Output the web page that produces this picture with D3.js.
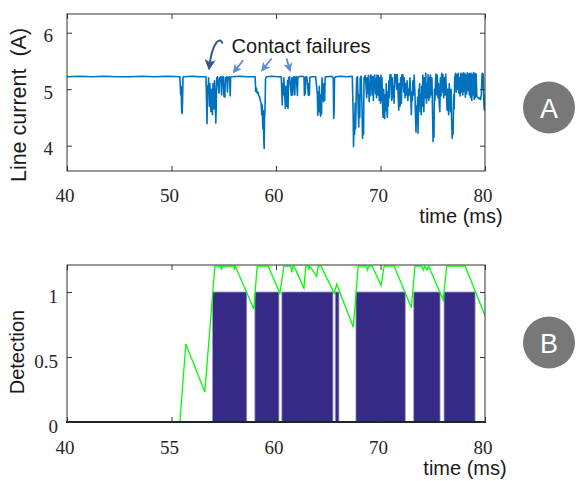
<!DOCTYPE html>
<html><head><meta charset="utf-8">
<script src="https://cdn.jsdelivr.net/npm/d3@7"></script>
<style>body{margin:0;background:#fff}svg{display:block}</style>
</head><body><svg id="c" width="576" height="481"></svg>
<script>
// ---------- data ----------
const timeTicks = [40, 50, 60, 70, 80];
const topTimeLabels = ["40", "50", "60", "70", "80"];
const bottomTimeLabels = ["40", "55", "60", "70", "80"];
const currentTicks = [4, 5, 6];
const currentTickLabels = ["4", "5", "6"];
const detectionTicks = [0, 0.5, 1];
const detectionTickLabels = ["0", "0.5", "1"];

// line current (A) vs time (ms)
const currentTrace = [
 [40.0,5.22],[41.2,5.23],[42.4,5.22],[43.6,5.23],[44.8,5.22],[46.0,5.22],[47.2,5.23],[48.4,5.22],[49.6,5.23],[50.8,5.22],
 [50.88,4.9],[50.92,5.05],[50.97,4.62],[51.02,4.57],[51.06,4.8],[51.1,5.2],[51.15,5.22],
 [52.0,5.23],[52.7,5.22],[53.3,5.22],
 [53.35,4.8],[53.4,4.39],[53.44,5.05],[53.5,4.95],[53.55,5.2],[53.62,4.7],[53.67,5.1],[53.72,4.85],[53.77,4.6],[53.82,5.0],[53.87,4.75],[53.92,4.55],[53.97,5.1],[54.02,4.85],[54.07,4.65],[54.12,5.15],[54.18,4.9],[54.24,4.4],[54.28,4.7],[54.33,5.2],[54.4,5.22],
 [54.55,4.93],[54.6,5.2],[54.72,5.22],[54.8,4.9],[54.84,5.21],[54.95,5.22],[55.02,4.87],[55.06,5.05],[55.11,4.86],[55.15,5.2],[55.28,5.22],[55.36,4.95],[55.4,5.21],[55.55,5.22],[55.62,4.88],[55.66,5.21],[55.8,5.22],
 [56.5,5.23],[57.3,5.22],[58.0,5.22],
 [58.06,4.96],[58.12,5.02],[58.2,4.93],[58.28,4.95],[58.36,4.88],[58.44,4.86],[58.5,4.8],[58.58,4.75],[58.64,4.55],[58.68,4.72],[58.74,4.3],[58.78,4.62],[58.83,4.1],[58.87,3.95],[58.9,4.45],[58.95,4.65],[59.0,5.18],[59.08,5.22],
 [59.6,5.23],[60.1,5.22],[60.5,5.22],
 [60.56,4.95],[60.6,4.72],[60.64,5.1],[60.7,4.9],[60.75,5.2],[60.85,4.85],[60.9,4.66],[60.95,5.05],[61.0,4.8],[61.05,4.7],[61.1,5.15],[61.15,4.66],[61.2,5.2],[61.3,5.22],
 [61.43,4.95],[61.47,4.89],[61.52,5.2],[61.6,4.9],[61.64,5.21],[61.72,5.22],[61.8,4.9],[61.84,5.21],[61.95,5.22],[62.05,4.89],[62.09,5.21],[62.2,5.22],[62.4,5.23],
 [62.68,5.22],[62.72,4.89],[62.76,5.05],[62.8,4.92],[62.84,5.21],[62.95,5.22],[63.1,4.89],[63.14,5.1],[63.2,4.9],[63.24,5.21],[63.5,5.22],[63.8,5.22],
 [63.96,4.9],[64.0,4.54],[64.04,4.95],[64.1,4.6],[64.15,5.05],[64.2,4.7],[64.26,4.52],[64.3,4.9],[64.36,4.56],[64.4,5.2],[64.5,4.9],[64.55,4.78],[64.6,5.1],[64.66,4.8],[64.7,5.21],[64.82,5.22],
 [65.0,5.22],[65.3,5.23],[65.48,5.2],[65.52,4.48],[65.56,4.6],[65.6,5.2],[65.7,5.22],[66.2,5.23],[66.8,5.22],[67.3,5.23],
 [67.38,4.6],[67.42,3.98],[67.47,4.4],[67.52,4.2],[67.57,4.75],[67.62,4.3],[67.68,4.9],[67.72,5.2],[67.8,5.22],[67.87,4.6],[67.92,4.33],[67.96,4.9],[68.02,4.5],[68.06,5.2],[68.15,5.23],
 [68.24,4.6],[68.28,4.13],[68.33,4.5],[68.38,4.2],[68.42,5.2],[68.55,5.24],
 [68.68,4.85],[68.72,5.2],[68.8,4.93],[68.84,5.24],[68.92,4.78],[68.96,5.1],[69.0,4.88],[69.04,5.25],[69.12,5.24],[69.2,4.9],[69.24,5.22],[69.32,4.8],[69.36,5.2],[69.45,5.25],[69.52,4.92],[69.56,5.18],[69.62,4.85],[69.66,5.25],[69.75,4.9],[69.8,5.24],[69.88,4.8],[69.92,5.2],[70.0,4.75],[70.05,5.25],
 [70.1,4.8],[70.14,5.2],[70.2,4.7],[70.25,4.5],[70.3,5.0],[70.35,4.6],[70.4,4.48],[70.45,4.9],[70.5,4.62],[70.55,5.1],[70.6,4.7],[70.65,4.5],[70.7,4.95],[70.75,4.7],[70.8,5.15],[70.85,4.85],[70.9,5.25],
 [71.0,5.26],[71.08,4.8],[71.12,5.2],[71.2,4.85],[71.25,5.05],[71.3,4.75],[71.35,5.26],
 [71.45,5.25],[71.55,5.0],[71.6,5.26],[71.7,4.85],[71.75,4.63],[71.8,5.1],[71.88,4.7],[71.93,5.2],[72.0,4.75],[72.05,5.26],
 [72.15,5.25],[72.22,4.95],[72.27,5.2],[72.35,4.85],[72.4,5.1],[72.48,4.9],[72.55,5.15],[72.62,4.8],[72.68,5.0],[72.75,4.9],[72.82,5.2],[72.9,4.85],[72.95,4.55],[73.0,4.95],[73.05,4.8],[73.1,5.15],[73.18,4.9],[73.22,5.25],
 [73.3,4.9],[73.35,4.5],[73.4,4.24],[73.45,4.7],[73.5,4.4],[73.55,4.85],[73.6,4.22],[73.65,5.0],
 [73.7,4.8],[73.75,5.1],[73.8,4.6],[73.85,4.9],[73.9,4.55],[73.95,5.05],[74.0,4.7],[74.05,5.25],[74.1,4.9],[74.15,4.6],[74.2,5.2],[74.28,4.85],[74.33,5.28],[74.4,4.75],[74.45,5.1],[74.5,4.85],[74.55,5.26],[74.62,4.8],[74.66,5.2],[74.72,4.85],[74.78,5.25],[74.85,4.9],
 [74.92,5.2],[74.98,4.6],[75.03,4.07],[75.07,4.5],[75.12,4.15],[75.16,5.0],[75.2,4.8],
 [75.3,5.27],[75.38,4.9],[75.43,5.25],[75.5,4.85],[75.55,5.1],[75.62,4.75],[75.68,4.6],[75.73,5.2],[75.8,4.88],[75.85,5.28],[75.92,4.95],[75.97,5.26],[76.05,4.85],[76.1,5.2],[76.18,4.9],[76.24,5.27],
 [76.32,4.9],[76.37,4.63],[76.42,5.0],[76.48,4.7],[76.52,4.55],[76.58,5.1],[76.64,4.8],[76.7,4.6],[76.75,5.0],[76.8,4.5],[76.86,4.13],[76.9,4.4],[76.95,4.2],[77.0,4.9],[77.05,4.65],[77.1,5.2],
 [77.18,5.28],[77.25,4.95],[77.3,5.26],[77.38,5.0],[77.44,5.28],[77.5,4.93],[77.55,5.2],[77.62,4.88],[77.67,5.28],[77.75,4.95],[77.8,5.27],[77.88,4.9],[77.93,5.29],[78.0,4.96],[78.05,5.28],[78.12,4.86],[78.18,5.25],[78.25,4.92],[78.3,5.29],[78.38,4.98],[78.43,5.27],[78.5,4.9],[78.55,5.28],
 [78.62,4.85],[78.67,5.28],[78.74,4.8],[78.8,5.26],[78.86,4.9],[78.9,5.29],[78.97,4.82],[79.02,5.28],[79.08,4.85],[79.15,5.27],[79.22,4.87],[79.3,4.86],[79.38,4.84],[79.45,4.83],[79.52,4.85],[79.58,4.82],
 [79.65,4.9],[79.72,5.28],[79.78,5.0],[79.83,5.27],[79.9,4.7],[79.95,4.63],[80.0,4.9]
];

// detection intervals (start ms, end ms), level 1
const detectionStarts = [53.93, 57.98, 60.56, 65.67, 67.65, 73.18, 76.08];
const detectionEnds   = [57.20, 60.28, 65.45, 66.02, 72.37, 75.70, 79.05];

// detection score (green line)
const scoreTrace = [
 [40,0],[50.8,0],[51.37,0.6],[53.19,0.23],[54.15,1.2],[54.72,1.2],[54.79,1.17],[54.86,1.2],[55.95,1.2],[56.02,1.17],[56.1,1.2],
 [57.88,0.87],[58.2,1.2],[59.25,1.2],[60.37,0.99],[60.76,1.2],[61.4,1.2],[61.52,1.15],[61.62,1.2],[61.72,1.2],
 [62.67,1.03],[62.86,1.2],[63.06,1.2],[63.13,1.17],[63.22,1.2],[63.89,1.12],[64.04,1.2],[64.3,1.2],
 [65.57,0.99],[65.8,1.06],[67.4,0.73],[67.87,1.2],[68.65,1.2],[68.76,1.17],[68.9,1.2],[69.2,1.2],
 [70.05,1.05],[70.35,1.2],[71.3,1.2],[72.95,0.88],[73.3,1.2],[73.95,1.2],[74.1,1.17],[74.25,1.2],[74.45,1.17],[74.6,1.2],
 [76.0,0.94],[76.34,1.2],[78.1,1.2],[80,0.82]
];

// annotation (data units)
const noteText = "Contact failures";
const noteAnchor = [55.75, 5.64];
const curvedArrow = [[54.88, 5.81], [54.72, 5.93], [53.9, 5.87], [53.6, 5.37]];
const straightArrows = [
 [56.86, 5.513, 55.97, 5.306],
 [59.58, 5.543, 58.68, 5.336],
 [61.01, 5.543, 61.33, 5.336]
];

// ---------- drawing ----------
const svg = d3.select("#c");
const serif = "'Liberation Serif','Times New Roman',serif";
const sans = "'Liberation Sans',Arial,sans-serif";
const L = 67, R = 485;

const x = d3.scaleLinear().domain([40, 80]).range([L, R]);
const yTop = d3.scaleLinear().domain([3.552, 6.331]).range([171, 14]);
const yBot = d3.scaleLinear().domain([0, 1.2]).range([422, 266]);

const defs = svg.append("defs");
defs.append("clipPath").attr("id", "clipTop").append("rect")
  .attr("x", L).attr("y", 14).attr("width", R - L).attr("height", 157);
defs.append("clipPath").attr("id", "clipBot").append("rect")
  .attr("x", L).attr("y", 265.5).attr("width", R - L).attr("height", 157);

function mk(id, color, size) {
  defs.append("marker").attr("id", id).attr("viewBox", "0 0 10 10")
    .attr("refX", 8).attr("refY", 5).attr("markerUnits", "userSpaceOnUse")
    .attr("markerWidth", size).attr("markerHeight", size).attr("orient", "auto")
    .append("path").attr("d", "M0,0 L10,5 L0,10 L2.5,5 z").attr("fill", color);
}
mk("ahDark", "#34588c", 11);
mk("ahLight", "#5b8ccc", 9);

// ---- panel A ----
const gA = svg.append("g");
gA.append("path").datum(currentTrace)
  .attr("clip-path", "url(#clipTop)")
  .attr("fill", "none").attr("stroke", "#0072bd").attr("stroke-width", 1.6)
  .attr("stroke-linejoin", "round")
  .attr("d", d3.line().x(d => x(d[0])).y(d => yTop(d[1])));

function frame(g, y0, y1, bottomW) {
  g.append("rect").attr("x", L).attr("y", y0).attr("width", R - L).attr("height", y1 - y0)
    .attr("fill", "none").attr("stroke", "#333").attr("stroke-width", 1);
  if (bottomW) g.append("line").attr("x1", L - 1).attr("x2", R + 1).attr("y1", y1).attr("y2", y1)
    .attr("stroke", "#1c2430").attr("stroke-width", bottomW);
}

function axes(g, yScale, y0, y1, xLabels, yVals, yLabels, yLabelRight, yLabelDy, xBase) {
  const xb = d3.axisBottom(x).tickValues(timeTicks).tickFormat((d, i) => xLabels[i])
    .tickSizeInner(-5).tickSizeOuter(0).tickPadding(0);
  const gx = g.append("g").attr("transform", `translate(0,${y1})`).call(xb);
  gx.select(".domain").remove();
  gx.selectAll("line").attr("stroke", "#333");
  gx.selectAll("text").attr("y", xBase - y1).attr("dy", 0).attr("dx", -2.5)
    .attr("font-family", serif).attr("font-size", 19).attr("fill", "#262626");
  const xt = d3.axisTop(x).tickValues(timeTicks).tickFormat("").tickSizeInner(-5).tickSizeOuter(0);
  const gxt = g.append("g").attr("transform", `translate(0,${y0})`).call(xt);
  gxt.select(".domain").remove(); gxt.selectAll("line").attr("stroke", "#333");

  const yl = d3.axisLeft(yScale).tickValues(yVals).tickFormat((d, i) => yLabels[i])
    .tickSizeInner(-5).tickSizeOuter(0).tickPadding(0);
  const gy = g.append("g").attr("transform", `translate(${L},0)`).call(yl);
  gy.select(".domain").remove(); gy.selectAll("line").attr("stroke", "#333");
  gy.selectAll("text").attr("x", yLabelRight - L).attr("dy", 0).attr("y", yLabelDy)
    .attr("font-family", serif).attr("font-size", 19).attr("fill", "#262626");
  const yr = d3.axisRight(yScale).tickValues(yVals).tickFormat("").tickSizeInner(-5).tickSizeOuter(0);
  const gyr = g.append("g").attr("transform", `translate(${R},0)`).call(yr);
  gyr.select(".domain").remove(); gyr.selectAll("line").attr("stroke", "#333");
}

frame(gA, 14, 171, 0);
axes(gA, yTop, 14, 171, topTimeLabels, currentTicks, currentTickLabels, 53, 9, 202);

gA.append("text").attr("x", 461).attr("y", 223).attr("text-anchor", "middle")
  .attr("font-family", sans).attr("font-size", 20).attr("fill", "#1a1a1a").text("time (ms)");
gA.append("text").attr("transform", "translate(19,105) rotate(-90)")
  .attr("text-anchor", "middle").attr("dominant-baseline", "central")
  .attr("font-family", sans).attr("font-size", 21.5).attr("fill", "#1a1a1a")
  .attr("xml:space", "preserve").style("white-space", "pre").text("Line current  (A)");

// annotation
gA.append("text").attr("x", x(noteAnchor[0])).attr("y", yTop(noteAnchor[1]))
  .attr("font-family", sans).attr("font-size", 20).attr("fill", "#1a1a1a").text(noteText);
const cp = curvedArrow.map(p => [x(p[0]), yTop(p[1])]);
gA.append("path")
  .attr("d", `M${cp[0]}C${cp[1]} ${cp[2]} ${cp[3]}`)
  .attr("fill", "none").attr("stroke", "#34588c").attr("stroke-width", 2)
  .attr("marker-end", "url(#ahDark)");
gA.selectAll("line.arr").data(straightArrows).join("line").attr("class", "arr")
  .attr("x1", d => x(d[0])).attr("y1", d => yTop(d[1]))
  .attr("x2", d => x(d[2])).attr("y2", d => yTop(d[3]))
  .attr("stroke", "#5b8ccc").attr("stroke-width", 1.8)
  .attr("marker-end", "url(#ahLight)");

// ---- panel B ----
const gB = svg.append("g");
gB.append("g").attr("clip-path", "url(#clipBot)")
  .selectAll("rect").data(detectionStarts).join("rect")
  .attr("x", (d, i) => x(d)).attr("width", (d, i) => x(detectionEnds[i]) - x(d))
  .attr("y", yBot(1)).attr("height", yBot(0) - yBot(1))
  .attr("fill", "#352a86").attr("stroke", "#9a94cc").attr("stroke-width", 0.8);
gB.append("path").datum(scoreTrace).attr("clip-path", "url(#clipBot)")
  .attr("fill", "none").attr("stroke", "#00ff00").attr("stroke-width", 1.3)
  .attr("d", d3.line().x(d => x(d[0])).y(d => yBot(d[1])));

frame(gB, 265, 422, 2.2);
axes(gB, yBot, 265, 422, bottomTimeLabels, detectionTicks, detectionTickLabels, 58, 10, 454);

gB.append("text").attr("x", 465).attr("y", 475).attr("text-anchor", "middle")
  .attr("font-family", sans).attr("font-size", 20).attr("fill", "#1a1a1a").text("time (ms)");
gB.append("text").attr("transform", "translate(17,352) rotate(-90)")
  .attr("text-anchor", "middle").attr("dominant-baseline", "central")
  .attr("font-family", sans).attr("font-size", 20).attr("fill", "#1a1a1a").text("Detection");

// ---- panel badges ----
const badges = [["A", 107.5], ["B", 342.5]];
const gb = svg.selectAll("g.badge").data(badges).join("g").attr("class", "badge")
  .attr("transform", d => `translate(549,${d[1]})`);
gb.append("circle").attr("r", 26).attr("fill", "#787878");
gb.append("text").attr("text-anchor", "middle").attr("dominant-baseline", "central")
  .attr("y", 1).attr("font-family", sans).attr("font-size", 27).attr("fill", "#fff").text(d => d[0]);
</script></body></html>
